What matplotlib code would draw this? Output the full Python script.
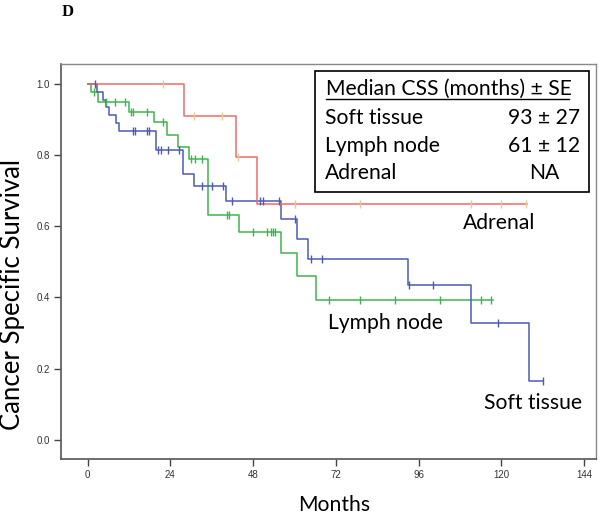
import numpy as np
import matplotlib
matplotlib.use('Agg')
import matplotlib.pyplot as plt
from matplotlib.patches import Rectangle
from matplotlib.lines import Line2D

# Kaplan-Meier curves: step times (months), survival after each step,
# censoring times and the last follow-up time
st_times = [0, 2.8, 4.4, 5.3, 6.3, 8.2, 9.2, 19.8, 27.7, 30.8, 40.1, 56.0, 60.8, 64.0, 93.0, 111.1, 128.2]
st_surv = [1.0, 0.978, 0.956, 0.934, 0.912, 0.890, 0.868, 0.813, 0.746, 0.712, 0.672, 0.620, 0.565, 0.507, 0.435, 0.327, 0.165]
st_cens = [2.1, 13.1, 13.7, 17.1, 17.9, 20.3, 21.2, 23.2, 26.5, 33.1, 36.0, 39.2, 42.0, 50.1, 50.9, 55.4,
           60.2, 64.8, 68.1, 93.3, 100.1, 119.2, 132.2]
st_end = 132.2

ln_times = [0, 1.0, 3.1, 12.0, 19.1, 23.0, 26.2, 29.5, 35.0, 43.9, 56.0, 60.8, 66.2]
ln_surv = [1.0, 0.977, 0.949, 0.921, 0.893, 0.857, 0.822, 0.789, 0.632, 0.585, 0.524, 0.459, 0.393]
ln_cens = [1.8, 5.3, 7.9, 10.8, 12.6, 13.2, 17.1, 21.9, 30.0, 31.0, 33.3, 40.3, 41.1, 48.1, 51.9, 53.1,
           53.9, 54.4, 70.1, 79.0, 89.2, 102.2, 114.1, 117.0]
ln_end = 117.7

ad_times = [0, 28.0, 43.1, 49.0]
ad_surv = [1.0, 0.909, 0.795, 0.663]
ad_cens = [21.9, 30.9, 39.1, 43.6, 60.2, 79.0, 111.1, 120.0, 127.3]
ad_end = 127.4

x_ticks = [0, 24, 48, 72, 96, 120, 144]
y_ticks = [0.0, 0.2, 0.4, 0.6, 0.8, 1.0]

legend_title = 'Median CSS (months) ± SE'
legend_names = ['Soft tissue', 'Lymph node', 'Adrenal']
legend_values = ['93 ± 27', '61 ± 12', 'NA']

FONT = 'Lato'
FS = 15.2
W, H = 600, 515


def px(x, y):
    # pixel position -> figure fraction
    return x / W, 1 - y / H


def km_curve(ax, times, surv, cens, end, color, cens_color):
    t = np.append(times, end)
    s = np.append(surv, surv[-1])
    ax.step(t, s, where='post', color=color, lw=1.1, zorder=3)
    idx = np.searchsorted(times, cens, side='right') - 1
    ax.plot(cens, np.array(surv)[idx], ls='none', marker='|', ms=6, mew=1.0,
            color=cens_color, zorder=4)


fig = plt.figure(figsize=(6, 5.15), dpi=100)
ax = fig.add_axes([61 / W, 1 - 459 / H, 535 / W, 395 / H])

km_curve(ax, ln_times, ln_surv, ln_cens, ln_end, '#3DB54A', '#3DB54A')
km_curve(ax, st_times, st_surv, st_cens, st_end, '#4B5BB5', '#4B5BB5')
km_curve(ax, ad_times, ad_surv, ad_cens, ad_end, '#EE6B6B', '#E9C98C')

ax.set_xlim(-7.75, 147.5)
ax.set_ylim(-0.054, 1.056)
ax.set_xticks(x_ticks)
ax.set_xticklabels([str(v) for v in x_ticks])
ax.set_yticks(y_ticks)
ax.set_yticklabels(['%.1f' % v for v in y_ticks])
ax.tick_params(direction='out', length=5, width=1, colors='#444444', labelsize=7,
               labelcolor='#333333', pad=3)
for lab in ax.get_xticklabels() + ax.get_yticklabels():
    lab.set_family('Liberation Sans')
for side in ['left', 'bottom']:
    ax.spines[side].set_color('#555555')
    ax.spines[side].set_linewidth(1.2)
for side in ['top', 'right']:
    ax.spines[side].set_color('#888888')
    ax.spines[side].set_linewidth(1.0)

# panel letter
fig.text(*px(68, 12), 'D', family='Liberation Serif', weight='bold', fontsize=12,
         ha='center', va='center')

# axis titles
fig.text(*px(13, 294), 'Cancer Specific Survival', family=FONT, fontsize=18.5,
         rotation=90, ha='center', va='center')
fig.text(*px(334, 511), 'Months', family=FONT, fontsize=FS, ha='center', va='baseline')

# curve labels
fig.text(*px(499, 223), 'Adrenal', family=FONT, fontsize=FS, ha='center', va='center')
fig.text(*px(385, 323), 'Lymph node', family=FONT, fontsize=FS, ha='center', va='center')
fig.text(*px(533, 403), 'Soft tissue', family=FONT, fontsize=FS, ha='center', va='center')

# median box
x0, y0 = px(315, 192)
x1, y1 = px(589, 71)
fig.patches.append(Rectangle((x0, y0), x1 - x0, y1 - y0, transform=fig.transFigure,
                             fill=True, facecolor='white', edgecolor='black', lw=1.2, zorder=5))
fig.text(*px(326, 89), legend_title, family=FONT, fontsize=FS, ha='left', va='center', zorder=6)
ux0, uy = px(326, 99)
ux1, _ = px(569, 99)
fig.lines.append(Line2D([ux0, ux1], [uy, uy], transform=fig.transFigure, color='black', lw=1.0, zorder=6))
row_y = [118, 146, 173]
for name, val, yy in zip(legend_names, legend_values, row_y):
    fig.text(*px(325, yy), name, family=FONT, fontsize=FS, ha='left', va='center', zorder=6)
    fig.text(*px(544, yy), val, family=FONT, fontsize=FS, ha='center', va='center', zorder=6)

fig.savefig('out.png', dpi=100)
